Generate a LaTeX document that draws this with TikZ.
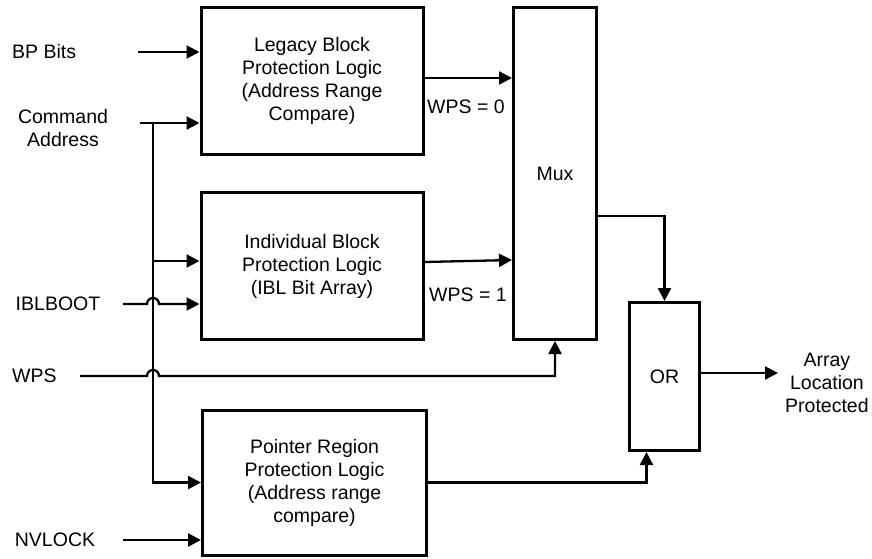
\documentclass[tikz,border=0pt]{standalone}
\usepackage{fontspec}
\setmainfont{Liberation Sans}
\usetikzlibrary{arrows.meta,calc}
\begin{document}
\begin{tikzpicture}[x=1pt,y=-1pt,
  every node/.style={font=\fontsize{19.5}{23}\selectfont},
  blk/.style={draw,line width=3pt,align=center,inner sep=0pt},
  lbl/.style={inner sep=0pt,align=center},
  arr/.style={line width=2.3pt,-{Triangle[length=13pt,width=13pt]}},
  wire/.style={line width=2.3pt}]
\useasboundingbox (0,0) rectangle (872,558);
% blocks
\node[blk,minimum width=222pt,minimum height=147pt] (leg) at (312,81) {Legacy Block\\Protection Logic\\(Address Range\\Compare)};
\node[blk,minimum width=222pt,minimum height=147pt] (ind) at (312,266) {Individual Block\\Protection Logic\\(IBL Bit Array)};
\node[blk,minimum width=83pt,minimum height=332pt] (mux) at (555,173.5) {Mux};
\node[blk,minimum width=70pt,minimum height=148pt] (or) at (664.5,376.5) {OR};
\node[blk,minimum width=224pt,minimum height=145pt] (ptr) at (314.5,482.5) {Pointer Region\\Protection Logic\\(Address range\\compare)};
% labels
\node[lbl,anchor=west] (tbp) at (12,52) {BP Bits};
\node[lbl] (tca) at (63,128.5) {Command\\Address};
\node[lbl] (tib) at (58,304) {IBLBOOT};
\node[lbl,anchor=west] (twps) at (12,376) {WPS};
\node[lbl] (tnv) at (55,540) {NVLOCK};
\node[lbl,anchor=west] (w0) at (427,107) {WPS = 0};
\node[lbl,anchor=west] (w1) at (429,295) {WPS = 1};
\node[lbl,anchor=west] (out) at (785,383) {Array\\Location\\Protected};
% coordinates
\coordinate (bp) at (138,52);
\coordinate (ca) at (140,123);
\coordinate (bus) at (153,123);
\coordinate (b1) at (153,261);
\coordinate (ib) at (123,304);
\coordinate (wps) at (80,376);
\coordinate (nv) at (123,540);
% inputs
\draw[arr] (bp) -- (bp -| leg.west);
\draw[arr] (ca) -- (ca -| leg.west);
\draw[arr] (bus) |- (ptr.west);
\draw[arr] (b1) -- (b1 -| ind.west);
\draw[arr] (ib) -- (147,304) arc[start angle=180,end angle=0,radius=6pt] -- (ib -| ind.west);
\draw[arr] (wps) -- (147,376) arc[start angle=180,end angle=0,radius=6pt] -- (wps -| mux.south) -- (mux.south);
\draw[arr] (nv) -- (nv -| ptr.west);
% to mux
\draw[arr] ([yshift=3pt]leg.east) -- ([yshift=3pt]leg.east -| mux.west);
\draw[arr] ([yshift=4pt]ind.east) -- ([yshift=6pt]ind.east -| mux.west);
% to or
\draw[arr] ([yshift=-42.5pt]mux.east) -| (or.north);
\draw[arr] (ptr.east) -| ([xshift=-18pt]or.south);
% output
\draw[arr] ([yshift=3.5pt]or.east) -- ([yshift=3.5pt,xshift=-7pt]or.east -| out.west);
\end{tikzpicture}
\end{document}
